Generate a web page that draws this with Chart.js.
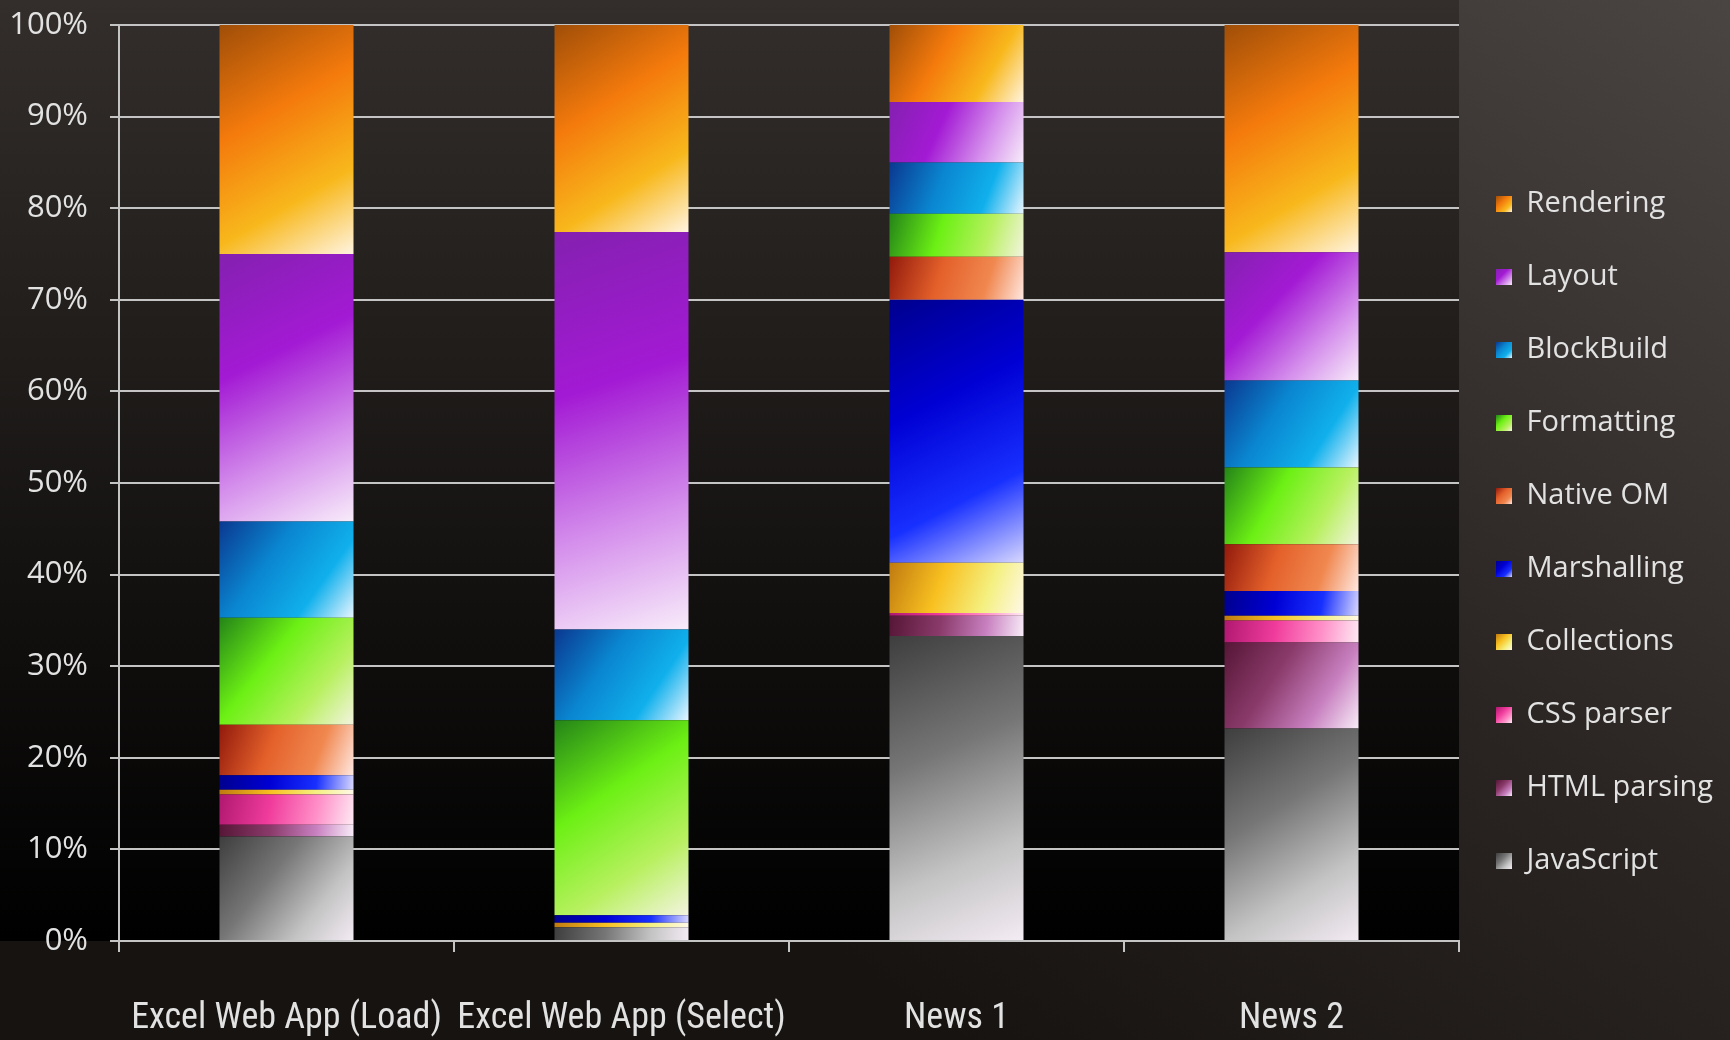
<!DOCTYPE html>
<html>
<head>
<meta charset="utf-8">
<script src="https://cdn.jsdelivr.net/npm/chart.js@4.4.1/dist/chart.umd.min.js"></script>
<style>
  html, body { margin: 0; padding: 0; background: #1a1613; }
  #wrap { width: 1730px; height: 1040px; position: relative; }
</style>
</head>
<body>
<div id="wrap"><canvas id="chart"></canvas></div>
<script>
// categories and series (percent of time, stacked bottom -> top)
const categories = ['Excel Web App (Load)', 'Excel Web App (Select)', 'News 1', 'News 2'];
const javaScript  = [11.4,  1.5, 33.3, 23.2];
const htmlParsing = [ 1.3,  0.0,  2.2,  9.4];
const cssParser   = [ 3.3,  0.0,  0.3,  2.4];
const collections = [ 0.5,  0.5,  5.5,  0.5];
const marshalling = [ 1.6,  0.8, 28.7,  2.7];
const nativeOM    = [ 5.5,  0.0,  4.7,  5.1];
const formatting  = [11.7, 21.3,  4.7,  8.4];
const blockBuild  = [10.5,  9.9,  5.6,  9.5];
const layoutTime  = [29.2, 43.4,  6.6, 14.0];
const rendering   = [25.0, 22.6,  8.4, 24.8];
const yTicks = [0, 10, 20, 30, 40, 50, 60, 70, 80, 90, 100];

// gradient stops per series: dark, main, light, white
const palette = {
  'JavaScript':   ['#3e3e3e', '#767676', '#c4c4c4', '#f4ecf4'],
  'HTML parsing': ['#561636', '#8a3a6a', '#c880c0', '#f8ecf8'],
  'CSS parser':   ['#b01870', '#f03c9c', '#ff90c8', '#ffeaf4'],
  'Collections':  ['#c07a10', '#f8c020', '#f4f080', '#fff8e8'],
  'Marshalling':  ['#00008e', '#0000d4', '#1830ff', '#d8d8ff'],
  'Native OM':    ['#921a0c', '#e4602a', '#f08850', '#ffe8e0'],
  'Formatting':   ['#248418', '#6cf014', '#b8f060', '#f4f4e0'],
  'BlockBuild':   ['#0a3890', '#0a86d0', '#10b0ec', '#e8f6ff'],
  'Layout':       ['#8420b0', '#a31ad4', '#d590ec', '#f8ecfa'],
  'Rendering':    ['#a04e08', '#f47a0c', '#f8b81c', '#fff4e0']
};

const BAR_FRACTION = 0.4;
const AXIS_COLOR = '#c4c4c4';
const TEXT_COLOR = '#e2e2e2';
const LEGEND_NUDGE = 7; // legend sits a bit closer to the plot than Chart.js puts it

function fillStops(g, stops) {
  g.addColorStop(0, stops[0]);
  g.addColorStop(0.38, stops[1]);
  g.addColorStop(0.72, stops[2]);
  g.addColorStop(1, stops[3]);
  return g;
}

function segmentFill(ctx) {
  const chart = ctx.chart;
  const ds = chart.data.datasets[ctx.datasetIndex];
  const stops = palette[ds.label];
  const xs = chart.scales.x, ys = chart.scales.y;
  if (!xs || !ys || ctx.type !== 'data' || !chart.chartArea) return stops[1];
  const i = ctx.dataIndex;
  let base = 0;
  for (let k = 0; k < ctx.datasetIndex; k++) base += chart.data.datasets[k].data[i];
  const top = base + ds.data[i];
  const cx = xs.getPixelForValue(i);
  const half = (xs.width / chart.data.labels.length) * BAR_FRACTION / 2;
  const g = chart.ctx.createLinearGradient(cx - half, ys.getPixelForValue(top), cx + half, ys.getPixelForValue(base));
  return fillStops(g, stops);
}

function makeDataset(label, data) {
  return { label, data, backgroundColor: segmentFill, borderWidth: 0 };
}

const backdrop = {
  id: 'backdrop',
  afterUpdate(chart) {
    const lg = chart.legend;
    if (!lg) return;
    lg.left -= LEGEND_NUDGE;
    lg.right -= LEGEND_NUDGE;
    (lg.legendHitBoxes || []).forEach(hb => { hb.left -= LEGEND_NUDGE; });
  },
  beforeDraw(chart) {
    const { ctx, width, height, chartArea } = chart;
    ctx.save();
    const g = ctx.createLinearGradient(width, 0, width * 0.55, height);
    g.addColorStop(0, '#4a4442');
    g.addColorStop(0.55, '#2a2522');
    g.addColorStop(1, '#171311');
    ctx.fillStyle = g;
    ctx.fillRect(0, 0, width, height);
    const p = ctx.createLinearGradient(0, 0, 0, chartArea.bottom);
    p.addColorStop(0, '#332e2b');
    p.addColorStop(1, '#000000');
    ctx.fillStyle = p;
    ctx.fillRect(0, 0, chartArea.right, chartArea.bottom);
    ctx.restore();

    // legend swatches get their own small gradients
    const lg = chart.legend;
    if (lg && lg.legendItems && lg.legendHitBoxes) {
      const bw = lg.options.labels.boxWidth;
      lg.legendItems.forEach((item, idx) => {
        const hb = lg.legendHitBoxes[idx];
        if (!hb) return;
        const y0 = hb.top + (hb.height - bw) / 2;
        const sg = ctx.createLinearGradient(hb.left, y0, hb.left + bw, y0 + bw);
        item.fillStyle = fillStops(sg, palette[item.text]);
      });
    }
  }
};

new Chart(document.getElementById('chart'), {
  type: 'bar',
  data: {
    labels: categories,
    datasets: [
      makeDataset('JavaScript', javaScript),
      makeDataset('HTML parsing', htmlParsing),
      makeDataset('CSS parser', cssParser),
      makeDataset('Collections', collections),
      makeDataset('Marshalling', marshalling),
      makeDataset('Native OM', nativeOM),
      makeDataset('Formatting', formatting),
      makeDataset('BlockBuild', blockBuild),
      makeDataset('Layout', layoutTime),
      makeDataset('Rendering', rendering)
    ]
  },
  options: {
    responsive: true,
    maintainAspectRatio: false,
    animation: false,
    events: [],
    datasets: { bar: { categoryPercentage: 1, barPercentage: BAR_FRACTION } },
    layout: { padding: { top: 25, right: 0, bottom: 0, left: 0 } },
    plugins: {
      legend: {
        position: 'right',
        reverse: true,
        labels: {
          color: TEXT_COLOR,
          boxWidth: 16,
          boxHeight: 16,
          padding: 44,
          font: { family: "'Open Sans', sans-serif", size: 29 }
        }
      },
      tooltip: { enabled: false }
    },
    scales: {
      x: {
        stacked: true,
        afterFit: s => { s.height = 99; },
        grid: { display: true, drawOnChartArea: false, offset: true, color: AXIS_COLOR, lineWidth: 2, tickLength: 11 },
        border: { color: AXIS_COLOR, width: 2 },
        ticks: {
          color: TEXT_COLOR,
          padding: 45,
          maxRotation: 0,
          autoSkip: false,
          font: { family: "'Roboto Condensed', 'DejaVu Sans Condensed', 'Liberation Sans Narrow', Lato, sans-serif", weight: 'condensed', size: 36 }
        }
      },
      y: {
        stacked: true,
        min: 0,
        max: 100,
        afterFit: s => { s.width = 119; s.paddingTop = 0; s.paddingBottom = 0; },
        afterBuildTicks: s => { s.ticks = yTicks.map(v => ({ value: v })); },
        grid: { color: AXIS_COLOR, lineWidth: 2, tickLength: 9 },
        border: { color: AXIS_COLOR, width: 2 },
        ticks: {
          color: TEXT_COLOR,
          padding: 22,
          font: { family: "'Open Sans', sans-serif", size: 31 },
          callback: v => v + '%'
        }
      }
    }
  },
  plugins: [backdrop]
});
</script>
</body>
</html>
